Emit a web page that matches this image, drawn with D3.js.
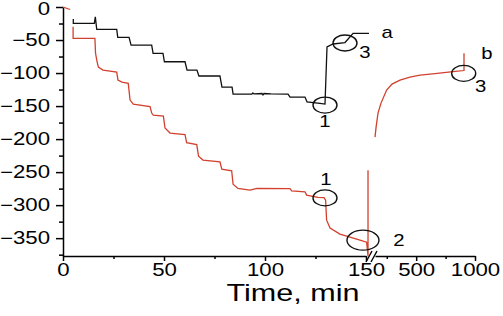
<!DOCTYPE html>
<html lang="en">
<head>
  <meta charset="UTF-8">
  <title>D3</title>
  <script src="https://d3js.org/d3.v7.min.js"></script>
  <style>
    body { margin: 0; background: #fff; }
    text { font-family: "Liberation Sans", Arial, sans-serif; fill: #000; }
  </style>
</head>
<body>
  <script>
    // time (min), value -- black curve "a"
    var blackData = [
      [5.1, -18], [5.1, -24.7], [15.5, -24.7], [16.0, -15], [16.7, -33.8],
      [26.6, -33.8], [27.1, -45.9], [32.7, -45.9], [33.7, -57.6], [43.9, -57.6],
      [44.6, -70.2], [49.5, -70.2], [50.2, -82.9], [60.4, -82.9], [61.4, -95.5],
      [66.3, -95.5], [67.3, -104.5], [77.7, -104.5], [78.7, -121.2], [83.7, -121.2],
      [84.2, -131.8], [93.5, -131.8], [94, -130], [94.5, -131.5], [98.5, -131],
      [99, -133], [99.5, -131], [103, -131.5], [111.4, -131.8], [112.4, -136.4],
      [119.8, -136.4], [120.8, -143.5], [127.2, -145.9], [129.7, -147],
      [130.7, -60.6], [133.7, -56], [139.6, -53.8], [143.6, -39.8], [151.5, -39.8]
    ];

    // red curve "b": short start, first part (linear time), second part (after break)
    var redStart = [[0, 0], [3.5, -3.8]];
    var redFirst = [
      [5, -29.8], [5, -47.4], [15.8, -47.4], [16.1, -69.7], [16.7, -80.3],
      [17.5, -90.9], [19.8, -95.5], [23.3, -97], [26.6, -98.5], [27.2, -110.6],
      [29.2, -113.6], [32.3, -115.6], [33.2, -140.9], [34.8, -147], [43.1, -150.8],
      [43.9, -160.6], [44.7, -163.6], [49.7, -165.2], [50.5, -183.3], [53, -190.9],
      [60.4, -193.2], [61.2, -205.3], [66.2, -208.3], [67.1, -225.8], [69.3, -231.8],
      [77.7, -234.4], [78.6, -245.5], [83.5, -248], [84.2, -268.2], [86.6, -274.7],
      [92.6, -277.3], [96, -274.7], [112.4, -275], [113.2, -278.3], [119.8, -279.8],
      [120.6, -284.8], [126.2, -288.3], [129.2, -288.6], [130, -292.4], [130.5, -322.7],
      [132.2, -334.8], [137.1, -343.9], [142.1, -348.5], [147, -353], [150.3, -356],
      [151, -377], [151, -247]
    ];
    var redSecond = [
      [150, -197], [158.5, -183], [175.5, -160.6], [201, -145.5], [249, -125.8],
      [294.5, -116.7], [362.5, -110.6], [447.5, -106], [532.5, -103], [660, -100.8],
      [813, -98], [906.5, -96.2], [906.5, -70.2]
    ];

    // marked points: [time, value, part, label]
    var markers = [
      [129.7, -148.5, 1, "1"],
      [139.6, -54.5, 1, "3"],
      [129.7, -289, 1, "1"],
      [148.5, -353, 1, "2"],
      [904, -100.5, 2, "3"]
    ];
    var curveNames = [[151.5, -39.8, 1, "a"], [906.5, -70.2, 2, "b"]];

    var yTicks = [0, -50, -100, -150, -200, -250, -300, -350];
    var yMinor = [-25, -75, -125, -175, -225, -275, -325, -375];
    var xTicks1 = [0, 50, 100, 150];
    var xMinor1 = [25, 75, 125];
    var xTicks2 = [500, 1000];
    var xMinor2 = [250, 750];

    var w = 503;
    var h = 316;

    var x1 = d3.scaleLinear().domain([0, 150]).range([63, 366]);
    var x2 = d3.scaleLinear().domain([150, 1000]).range([375, 475]);
    var y = d3.scaleLinear().domain([-377, 0]).range([256, 7]);

    var sx = 1.27; // the lettering is stretched sideways

    var svg = d3.select("body").append("svg")
      .attr("width", w)
      .attr("height", h);

    function lineFor(xs) {
      return d3.line()
        .x(function(d) { return xs(d[0]); })
        .y(function(d) { return y(d[1]); });
    }

    // axes
    var yAxis = svg.append("g")
      .attr("transform", "translate(63,0)")
      .call(d3.axisLeft(y).tickValues(yTicks).tickSize(7).tickSizeOuter(0));
    yAxis.selectAll("text")
      .style("font-size", "17.5px")
      .attr("x", -13 / sx)
      .attr("dy", function(d) { return d === 0 ? "0.42em" : "0.32em"; })
      .attr("transform", "scale(" + sx + ",1)");

    svg.append("g")
      .attr("transform", "translate(63,0)")
      .call(d3.axisLeft(y).tickValues(yMinor).tickSize(4).tickFormat(""))
      .select(".domain").remove();

    var fmt = d3.format("d");
    var xAxis1 = svg.append("g")
      .attr("transform", "translate(0,256)")
      .call(d3.axisBottom(x1).tickValues(xTicks1).tickSize(5).tickSizeOuter(0).tickFormat(fmt));
    svg.append("g")
      .attr("transform", "translate(0,256)")
      .call(d3.axisBottom(x1).tickValues(xMinor1).tickSize(3).tickFormat(""))
      .select(".domain").remove();

    var xAxis2 = svg.append("g")
      .attr("transform", "translate(0,256)")
      .call(d3.axisBottom(x2).tickValues(xTicks2).tickSize(5).tickSizeOuter(0).tickFormat(fmt));
    svg.append("g")
      .attr("transform", "translate(0,256)")
      .call(d3.axisBottom(x2).tickValues(xMinor2).tickSize(3).tickFormat(""))
      .select(".domain").remove();

    svg.selectAll("g").selectAll(".domain, line")
      .attr("stroke", "#000")
      .attr("stroke-width", 1.5);

    [xAxis1, xAxis2].forEach(function(ax) {
      ax.selectAll("text")
        .style("font-size", "17.5px")
        .attr("y", 8)
        .attr("transform", "scale(" + sx + ",1)");
    });

    // axis break marks
    var brk = svg.append("g").attr("stroke", "#000").attr("stroke-width", 1.4);
    [366, 371].forEach(function(bx) {
      brk.append("line")
        .attr("x1", bx).attr("y1", 262)
        .attr("x2", bx + 6).attr("y2", 251);
    });

    // curves
    svg.append("path").datum(blackData)
      .attr("d", lineFor(x1))
      .attr("fill", "none").attr("stroke", "#111").attr("stroke-width", 1.3);

    [redStart, redFirst].forEach(function(part) {
      svg.append("path").datum(part)
        .attr("d", lineFor(x1))
        .attr("fill", "none").attr("stroke", "#d2402e").attr("stroke-width", 1.3);
    });
    svg.append("path").datum(redSecond)
      .attr("d", lineFor(x2))
      .attr("fill", "none").attr("stroke", "#d2402e").attr("stroke-width", 1.3);

    // marked points
    var labelOffset = [[0, 16], [20, 9], [1, -19], [36, 0], [17, 13]];
    markers.forEach(function(m, i) {
      var xs = m[2] === 1 ? x1 : x2;
      var big = m[3] === "2";
      svg.append("ellipse")
        .attr("cx", xs(m[0])).attr("cy", y(m[1]))
        .attr("rx", big ? 16 : 12).attr("ry", big ? 10 : 8)
        .attr("fill", "none").attr("stroke", "#111").attr("stroke-width", 1.4);
      var lx = xs(m[0]) + labelOffset[i][0];
      var ly = y(m[1]) + labelOffset[i][1];
      svg.append("text")
        .attr("transform", "translate(" + lx + "," + ly + ") scale(" + sx + ",1)")
        .attr("text-anchor", "middle")
        .attr("dy", "0.36em")
        .style("font-size", "16px")
        .text(m[3]);
    });

    var nameOffset = [[18, 5], [23, 6]];
    curveNames.forEach(function(c, i) {
      var xs = c[2] === 1 ? x1 : x2;
      svg.append("text")
        .attr("transform", "translate(" + (xs(c[0]) + nameOffset[i][0]) + "," + (y(c[1]) + nameOffset[i][1]) + ") scale(" + sx + ",1)")
        .attr("text-anchor", "middle")
        .style("font-size", "16px")
        .text(c[3]);
    });

    svg.append("text")
      .attr("transform", "translate(293,301) scale(1.3,1)")
      .attr("text-anchor", "middle")
      .style("font-size", "23.5px")
      .text("Time, min");
  </script>
</body>
</html>
